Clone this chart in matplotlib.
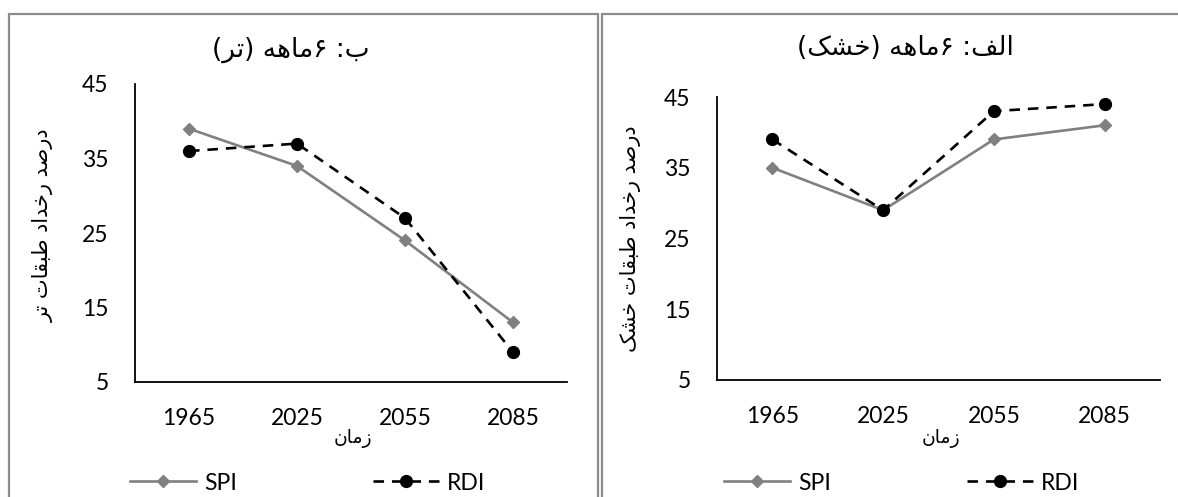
import matplotlib
matplotlib.use("Agg")
import matplotlib.pyplot as plt
from matplotlib.patches import Rectangle

# data
years = ["1965", "2025", "2055", "2085"]
yticks = [5, 15, 25, 35, 45]

wet_spi = [39, 34, 24, 13]
wet_rdi = [36, 37, 27, 9]
dry_spi = [35, 29, 39, 41]
dry_rdi = [39, 29, 43, 44]

title_wet = "ب: ۶ماهه (تر)"
title_dry = "الف: ۶ماهه (خشک)"
ylab_wet = "درصد رخداد طبقات تر"
ylab_dry = "درصد رخداد طبقات خشک"
xlab = "زمان"

# arabic presentation forms: isolated, final, initial, medial
FORMS = {
    "ا": ("\uFE8D", "\uFE8E", None, None),
    "ب": ("\uFE8F", "\uFE90", "\uFE91", "\uFE92"),
    "ت": ("\uFE95", "\uFE96", "\uFE97", "\uFE98"),
    "خ": ("\uFEA5", "\uFEA6", "\uFEA7", "\uFEA8"),
    "د": ("\uFEA9", "\uFEAA", None, None),
    "ر": ("\uFEAD", "\uFEAE", None, None),
    "ز": ("\uFEAF", "\uFEB0", None, None),
    "ش": ("\uFEB5", "\uFEB6", "\uFEB7", "\uFEB8"),
    "ص": ("\uFEB9", "\uFEBA", "\uFEBB", "\uFEBC"),
    "ط": ("\uFEC1", "\uFEC2", "\uFEC3", "\uFEC4"),
    "ف": ("\uFED1", "\uFED2", "\uFED3", "\uFED4"),
    "ق": ("\uFED5", "\uFED6", "\uFED7", "\uFED8"),
    "ل": ("\uFEDD", "\uFEDE", "\uFEDF", "\uFEE0"),
    "م": ("\uFEE1", "\uFEE2", "\uFEE3", "\uFEE4"),
    "ن": ("\uFEE5", "\uFEE6", "\uFEE7", "\uFEE8"),
    "ه": ("\uFEE9", "\uFEEA", "\uFEEB", "\uFEEC"),
    "ک": ("\uFB8E", "\uFB8F", "\uFB90", "\uFB91"),
}


def fa(text):
    # shape letters and put them in visual (left to right) order
    out = []
    for i, ch in enumerate(text):
        if ch not in FORMS:
            out.append(ch)
            continue
        prev = text[i - 1] if i > 0 else ""
        nxt = text[i + 1] if i < len(text) - 1 else ""
        iso, fin, ini, med = FORMS[ch]
        jp = prev in FORMS and FORMS[prev][2] is not None
        jn = ini is not None and nxt in FORMS
        if jp and jn:
            out.append(med)
        elif jp:
            out.append(fin)
        elif jn:
            out.append(ini)
        else:
            out.append(iso)
    mirror = {"(": ")", ")": "("}
    return "".join(mirror.get(c, c) for c in reversed(out))


plt.rcParams['font.family'] = ['Lato', 'DejaVu Sans']
AR = ['DejaVu Sans']
W, H = 1178, 497
fig = plt.figure(figsize=(W / 100, H / 100), dpi=100)

# panel frames
fig.patches.append(Rectangle((8.5 / W, -0.1), (597.5 - 8.5) / W, 1.1 - 13.5 / H,
                             transform=fig.transFigure, fill=False,
                             edgecolor="#8c8c8c", lw=1.6))
fig.patches.append(Rectangle((601.5 / W, -0.1), 0.5, 1.1 - 13.5 / H,
                             transform=fig.transFigure, fill=False,
                             edgecolor="#8c8c8c", lw=1.6))


def panel(box, spi, rdi, title, ylab, title_x, title_y, ylab_x, ylab_dy, leg_x):
    l, t, r, b = box
    ax = fig.add_axes([l / W, 1 - b / H, (r - l) / W, (b - t) / H])
    x = list(range(len(years)))
    ax.plot(x, spi, color="#808080", lw=1.9, marker="D", ms=6.5,
            label="SPI")
    ax.plot(x, rdi, color="black", lw=1.9, ls=(0, (4, 3)), marker="o",
            ms=8.5, label="RDI")
    ax.set_xlim(-0.5, 3.5)
    ax.set_ylim(5, 45)
    ax.set_yticks(yticks)
    ax.set_xticks(x)
    ax.set_xticklabels(years)
    ax.tick_params(length=0, labelsize=16.5)
    ax.tick_params(axis="y", pad=19)
    ax.tick_params(axis="x", pad=19)
    for s in ["top", "right"]:
        ax.spines[s].set_visible(False)
    for s in ["left", "bottom"]:
        ax.spines[s].set_linewidth(1.3)
    fig.text(title_x / W, 1 - title_y / H, fa(title), ha="center",
             va="center", fontsize=19, family=AR)
    fig.text(ylab_x / W, 1 - ((t + b) / 2 + ylab_dy) / H, fa(ylab), ha="center",
             va="center", rotation=90, fontsize=15, family=AR)
    fig.text(((l + r) / 2 + 2) / W, 1 - 438 / H, fa(xlab), ha="center",
             va="center", fontsize=13.5, family=AR)
    ax.legend(loc="center left", bbox_to_anchor=(leg_x / W, 1 - 483 / H),
              bbox_transform=fig.transFigure, ncol=2, frameon=False,
              fontsize=16.5, handlelength=2.9, columnspacing=5.9,
              handletextpad=0.35, borderpad=0, borderaxespad=0)
    return ax


panel((135, 84, 567, 382), wet_spi, wet_rdi, title_wet, ylab_wet,
      291, 50, 43, -8, 130)
panel((717, 97, 1160, 380), dry_spi, dry_rdi, title_dry, ylab_dry,
      905, 48, 630, 0, 724)

fig.savefig("out.png", dpi=100)
